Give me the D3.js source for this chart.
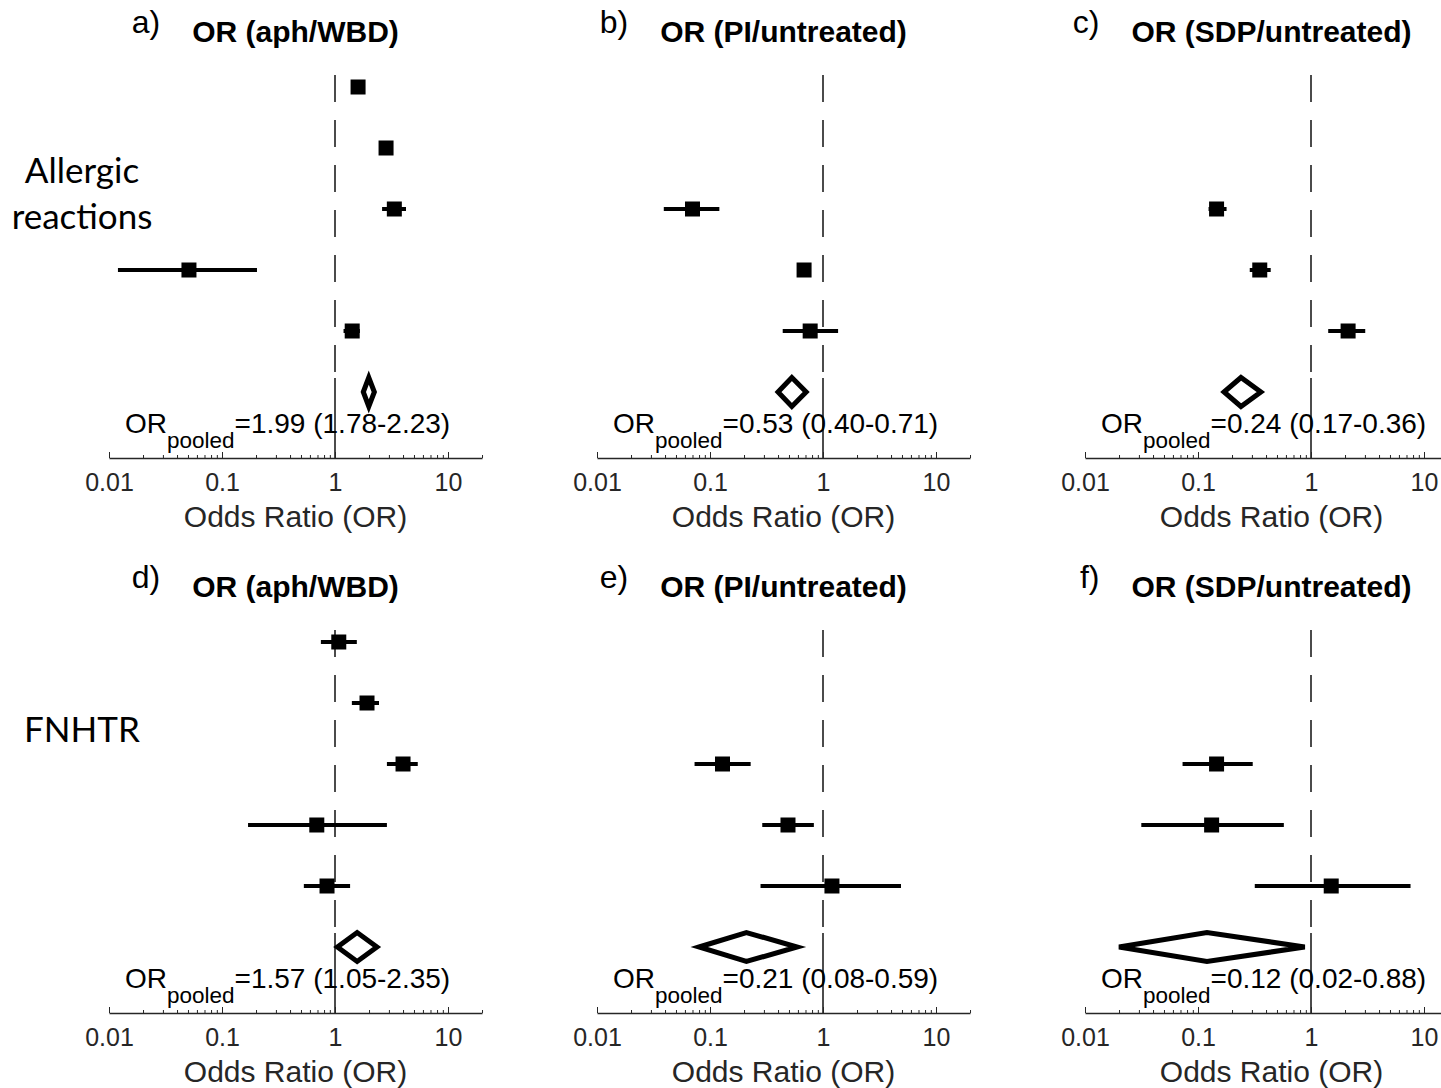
<!DOCTYPE html>
<html>
<head>
<meta charset="utf-8">
<script src="https://cdn.jsdelivr.net/npm/d3@7"></script>
<style>
  body { margin: 0; background: #fff; }
  svg { display: block; }
</style>
</head>
<body>
<div id="vis"></div>
<script>
// panel labels / titles
var panelLetters = ["a)", "b)", "c)", "d)", "e)", "f)"];
var comparisons = ["OR (aph/WBD)", "OR (PI/untreated)", "OR (SDP/untreated)"];
var outcomes = [["Allergic", "reactions"], ["FNHTR"]];

// study odds ratios per panel (null = no study in that row)
var orA = [1.60, 2.83, 3.35, 0.051, 1.42];
var loA = [1.45, 2.62, 2.61, 0.012, 1.19];
var hiA = [1.75, 3.05, 4.25, 0.204, 1.66];

var orB = [null, null, 0.070, 0.68, 0.77];
var loB = [null, null, 0.039, 0.60, 0.44];
var hiB = [null, null, 0.121, 0.77, 1.36];

var orC = [null, null, 0.146, 0.352, 2.13];
var loC = [null, null, 0.124, 0.287, 1.42];
var hiC = [null, null, 0.179, 0.44, 3.02];

var orD = [1.08, 1.92, 4.0, 0.69, 0.85];
var loD = [0.75, 1.41, 2.88, 0.17, 0.53];
var hiD = [1.56, 2.45, 5.4, 2.88, 1.36];

var orE = [null, null, 0.129, 0.49, 1.2];
var loE = [null, null, 0.073, 0.29, 0.28];
var hiE = [null, null, 0.229, 0.83, 4.9];

var orF = [null, null, 0.146, 0.132, 1.51];
var loF = [null, null, 0.073, 0.0315, 0.318];
var hiF = [null, null, 0.305, 0.575, 7.6];

// pooled estimate [OR, lower, upper]
var pooled = [
  [1.99, 1.78, 2.23],
  [0.53, 0.40, 0.71],
  [0.24, 0.17, 0.36],
  [1.57, 1.05, 2.35],
  [0.21, 0.08, 0.59],
  [0.12, 0.02, 0.88]
];
var pooledText = [
  "=1.99 (1.78-2.23)", "=0.53 (0.40-0.71)", "=0.24 (0.17-0.36)",
  "=1.57 (1.05-2.35)", "=0.21 (0.08-0.59)", "=0.12 (0.02-0.88)"
];

var majorTicks = [0.01, 0.1, 1, 10];
var tickLabels = ["0.01", "0.1", "1", "10"];
var xDomain = [0.01, 20];

var studies = [
  [orA, loA, hiA], [orB, loB, hiB], [orC, loC, hiC],
  [orD, loD, hiD], [orE, loE, hiE], [orF, loF, hiF]
];

var width = 1441, height = 1088;
var svg = d3.select("#vis").append("svg")
    .attr("width", width)
    .attr("height", height);

var helv = "'Liberation Sans', Arial, Helvetica, sans-serif";
var colX = [109, 597, 1085];
var rowAxisY = [458, 1013];
var decade = 113;

for (var p = 0; p < 6; p++) {
  var col = p % 3, row = Math.floor(p / 3);
  var x0 = colX[col], axisY = rowAxisY[row];

  var x = d3.scaleLog()
      .domain(xDomain)
      .range([x0, x0 + decade * Math.log10(xDomain[1] / xDomain[0])]);
  var y = d3.scaleLinear()
      .domain([1, 6])
      .range([axisY - 371, axisY - 66]);

  var g = svg.append("g");

  // reference line at OR = 1
  g.append("line")
    .attr("x1", x(1)).attr("x2", x(1))
    .attr("y1", axisY - 383).attr("y2", axisY - 80)
    .attr("stroke", "#111").attr("stroke-width", 1.5)
    .attr("stroke-dasharray", "27,18");
  g.append("line")
    .attr("x1", x(1)).attr("x2", x(1))
    .attr("y1", axisY - 80).attr("y2", axisY)
    .attr("stroke", "#111").attr("stroke-width", 1.5);

  // axis: minor ticks then major ticks with labels
  var minor = x.ticks().filter(function(d) { return majorTicks.indexOf(d) < 0; });
  g.append("g")
    .attr("transform", "translate(0," + axisY + ")")
    .call(d3.axisBottom(x).tickValues(minor).tickSize(-3).tickSizeOuter(0).tickFormat(""))
    .call(function(a) {
      a.selectAll("line").attr("stroke", "#262626");
      a.select(".domain").attr("stroke", "#262626").attr("stroke-width", 1.5);
    });
  g.append("g")
    .attr("transform", "translate(0," + axisY + ")")
    .call(d3.axisBottom(x).tickValues(majorTicks).tickSize(-6).tickSizeOuter(0)
      .tickPadding(15)
      .tickFormat(function(d, i) { return tickLabels[i]; }))
    .call(function(a) {
      a.select(".domain").remove();
      a.selectAll("line").attr("stroke", "#262626");
      a.selectAll("text")
        .attr("fill", "#262626")
        .style("font-family", helv)
        .style("font-size", "25px");
    });

  g.append("text")
    .attr("x", (x.range()[0] + x.range()[1]) / 2)
    .attr("y", axisY + 69)
    .attr("text-anchor", "middle")
    .attr("fill", "#262626")
    .style("font-family", helv)
    .style("font-size", "30px")
    .text("Odds Ratio (OR)");

  // study estimates
  var s = studies[p];
  var rows = s[0].map(function(d, i) {
    return {or: d, lo: s[1][i], hi: s[2][i], row: i + 1};
  }).filter(function(d) { return d.or != null; });

  g.selectAll(".ci").data(rows).join("line")
    .attr("x1", function(d) { return x(d.lo); })
    .attr("x2", function(d) { return x(d.hi); })
    .attr("y1", function(d) { return y(d.row); })
    .attr("y2", function(d) { return y(d.row); })
    .attr("stroke", "#000").attr("stroke-width", 4);

  g.selectAll(".pt").data(rows).join("rect")
    .attr("x", function(d) { return x(d.or) - 7.5; })
    .attr("y", function(d) { return y(d.row) - 7.5; })
    .attr("width", 15).attr("height", 15)
    .attr("fill", "#000");

  // pooled diamond
  var pe = pooled[p], yc = y(6);
  g.append("path")
    .attr("d", "M" + x(pe[1]) + "," + yc +
               "L" + x(pe[0]) + "," + (yc - 14.5) +
               "L" + x(pe[2]) + "," + yc +
               "L" + x(pe[0]) + "," + (yc + 14.5) + "Z")
    .attr("fill", "none").attr("stroke", "#000").attr("stroke-width", 5);

  var t = g.append("text")
    .attr("x", x0 + 16)
    .attr("y", axisY - 25)
    .attr("fill", "#000")
    .style("font-family", helv)
    .style("font-size", "28px");
  t.append("tspan").text("OR");
  t.append("tspan").attr("dy", 15).style("font-size", "22.5px").text("pooled");
  t.append("tspan").attr("dy", -15).text(pooledText[p]);

  // title and panel letter
  var title = g.append("text")
    .attr("x", (x.range()[0] + x.range()[1]) / 2)
    .attr("y", axisY - 416)
    .attr("text-anchor", "middle")
    .attr("fill", "#000")
    .style("font-family", helv)
    .style("font-size", "30px")
    .style("font-weight", "bold")
    .text(comparisons[col]);
  var tw = title.node().getComputedTextLength();
  g.append("text")
    .attr("x", (x.range()[0] + x.range()[1]) / 2 - tw / 2 - 32)
    .attr("y", axisY - 425)
    .attr("text-anchor", "end")
    .attr("fill", "#000")
    .style("font-family", helv)
    .style("font-size", "32px")
    .text(panelLetters[p]);
}

// outcome labels on the left
var outY = [[183, 229], [742]];
outcomes.forEach(function(lines, r) {
  var lab = svg.append("text")
    .attr("text-anchor", "middle")
    .attr("fill", "#000")
    .style("font-family", "Lato, 'Open Sans', sans-serif")
    .style("font-size", "35px");
  lines.forEach(function(l, i) {
    lab.append("tspan").attr("x", 82).attr("y", outY[r][i]).text(l);
  });
});
</script>
</body>
</html>
